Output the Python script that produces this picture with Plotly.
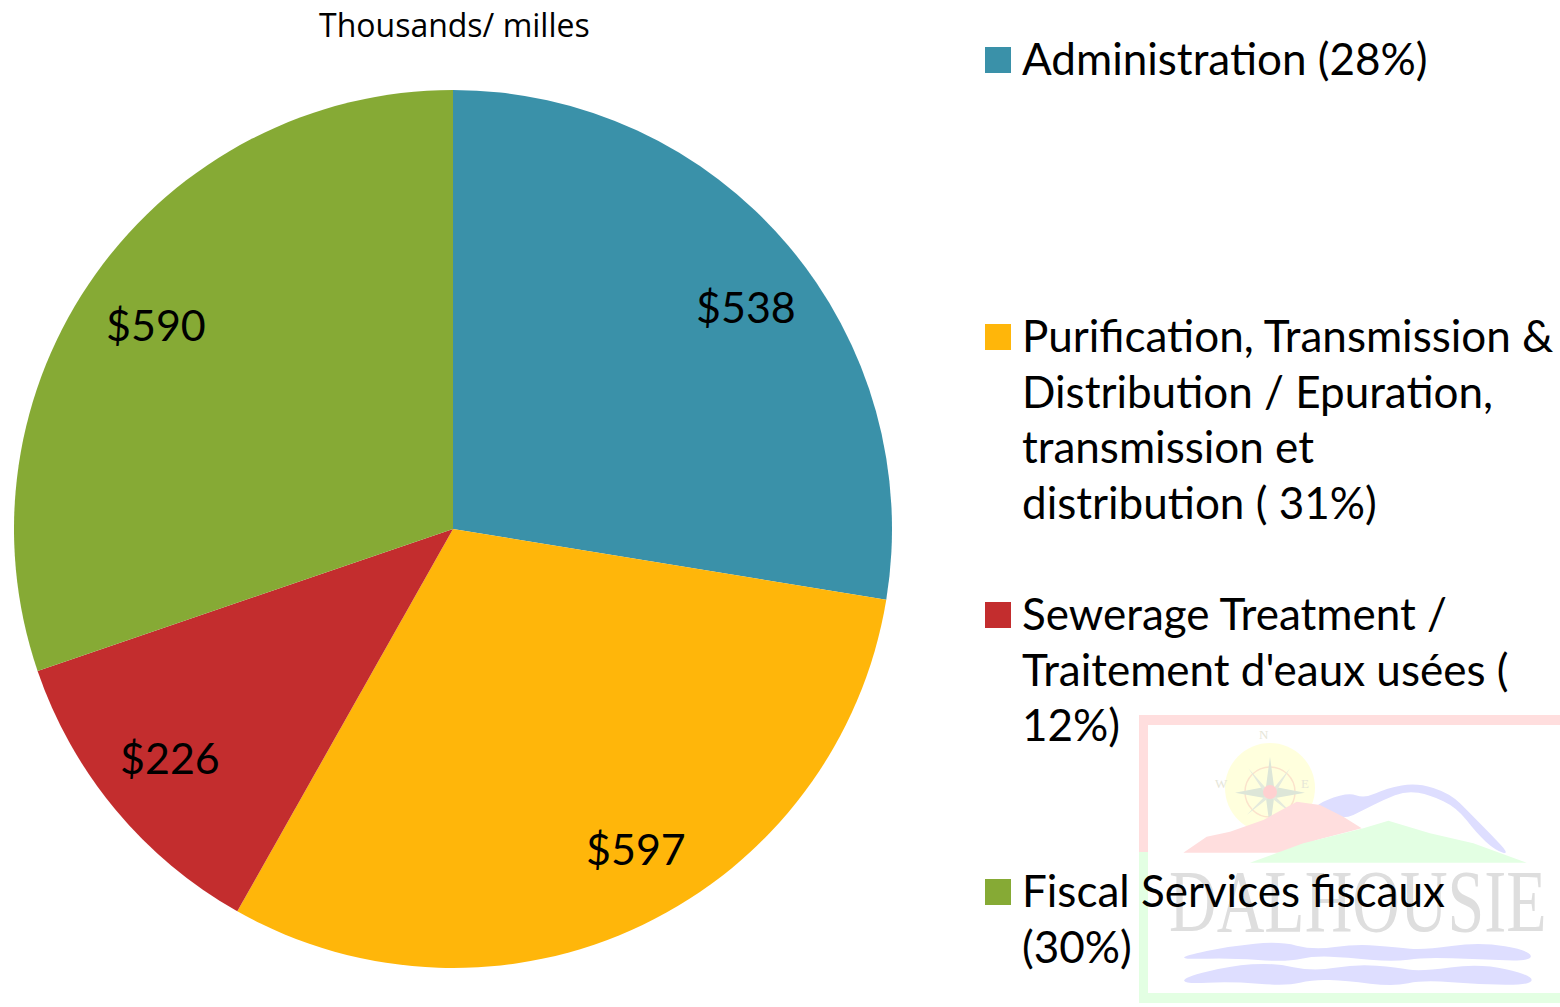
import plotly.graph_objects as go

W, H = 1560, 1007
categories = [["Administration (28%)"],
              ["Purification, Transmission &", "Distribution / Epuration,", "transmission et", "distribution ( 31%)"],
              ["Sewerage Treatment /", "Traitement d'eaux usées (", "12%)"],
              ["Fiscal Services fiscaux", "(30%)"]]
values = [538, 597, 226, 590]
colors = ["#3A91A9", "#FFB60A", "#C32D2E", "#86AA35"]
label_pos = [(746, 307), (636, 848), (170, 757), (156, 325)]
legend_tops = [30, 307, 585, 862]
title_text = "Thousands/ milles"

MAIN = "Lato, 'Noto Sans', sans-serif"
LINE_STEP = 55.7
px = lambda x: x / W
py = lambda y: 1 - y / H


def crop_xy(a, b):
    # logo outline points, measured in the 3x crop at (1130, 700)
    return px(1130 + a / 3), py(700 + b / 3)


def zpath(pts):
    c = [crop_xy(a, b) for a, b in pts]
    return "M" + " L".join(f"{a:.5f},{b:.5f}" for a, b in c) + " Z"


def smooth(pts):
    c = [crop_xy(a, b) for a, b in pts]
    n = len(c)
    mid = lambda p, q: ((p[0] + q[0]) / 2, (p[1] + q[1]) / 2)
    start = mid(c[-1], c[0])
    d = f"M{start[0]:.5f},{start[1]:.5f}"
    for i in range(n):
        m = mid(c[i], c[(i + 1) % n])
        d += f" Q{c[i][0]:.5f},{c[i][1]:.5f} {m[0]:.5f},{m[1]:.5f}"
    return d + " Z"


def logo_shape(path, fill):
    return dict(type="path", xref="paper", yref="paper", path=path, fillcolor=fill,
                line=dict(width=0), layer="below")


def rect(x0, y0, x1, y1, fill, layer="below"):
    return dict(type="rect", xref="paper", yref="paper", x0=px(x0), x1=px(x1), y0=py(y1), y1=py(y0),
                fillcolor=fill, line=dict(width=0), layer=layer)


def circle(cx, cy, r, fill, line=None, lw=0):
    return dict(type="circle", xref="paper", yref="paper", x0=px(cx - r), x1=px(cx + r),
                y0=py(cy + r), y1=py(cy - r), fillcolor=fill,
                line=dict(width=lw, color=line or fill), layer="below")


shapes = [
    rect(1139, 715, 1560, 725, "#FFDEDE"),
    rect(1139, 715, 1148, 852, "#FFDEDE"),
    rect(1139, 852, 1148, 1003, "#E3FFE3"),
    rect(1139, 993, 1560, 1003, "#E3FFE3"),
    circle(1270, 788, 45, "#FFFFDD"),
    circle(1270, 792, 25, "rgba(0,0,0,0)", "#FBE3CC", 1.5),
    logo_shape(zpath([(420, 170), (432, 260), (525, 278), (432, 295), (420, 385), (408, 295), (315, 278), (408, 260)]), "#DDE6D8"),
    logo_shape(zpath([(420, 278), (480, 205), (432, 285), (490, 345), (420, 290), (350, 345), (408, 285), (355, 205)]), "#E4EADD"),
    logo_shape(smooth([(530, 325), (650, 276), (705, 295), (770, 265), (860, 248), (960, 280), (1020, 340),
                       (1085, 405), (1140, 465), (1095, 450), (1040, 400), (980, 322), (900, 285), (830, 272),
                       (760, 300), (700, 330), (640, 360)]), "#DEDEFF"),
    logo_shape(zpath([(160, 458), (230, 410), (300, 395), (400, 360), (500, 305), (570, 315), (640, 350),
                      (695, 385), (560, 420), (470, 458)]), "#FFDEDE"),
    logo_shape(zpath([(360, 488), (520, 430), (700, 385), (775, 362), (900, 400), (1030, 430), (1190, 488)]), "#E3FFE3"),
    circle(1270, 792, 7, "#FFD0D0"),
    logo_shape(smooth([(160, 768), (300, 738), (450, 724), (550, 750), (680, 732), (800, 742), (880, 750),
                       (1050, 726), (1200, 752), (1205, 784), (1050, 778), (880, 772), (790, 786), (650, 772),
                       (550, 768), (470, 786), (300, 774), (165, 778)]), "#DEDEFF"),
    logo_shape(smooth([(160, 832), (300, 798), (430, 788), (550, 815), (680, 792), (800, 802), (870, 815),
                       (1050, 790), (1205, 825), (1205, 855), (1050, 854), (880, 840), (790, 860), (650, 842),
                       (550, 838), (470, 858), (300, 844), (165, 852)]), "#DEDEFF"),
]

annotations = [
    dict(x=px(1358), y=py(900), xref="paper", yref="paper", text="DALHOUSIE", showarrow=False,
         xanchor="center", yanchor="middle",
         font=dict(family="'Liberation Serif', serif", size=66, color="#DEDEDE")),
    dict(x=px(454), y=py(25), xref="paper", yref="paper", text=title_text, showarrow=False,
         xanchor="center", yanchor="middle",
         font=dict(family="'Open Sans', 'Noto Sans', sans-serif", size=32, color="#000000")),
]

for letter, lx, ly in [("N", 1271, 744), ("W", 1230, 793), ("E", 1311, 793)]:
    annotations.append(dict(x=px(lx), y=py(ly), xref="paper", yref="paper", text=letter, showarrow=False,
                            font=dict(family="'Liberation Serif', serif", size=13, color="#E6E6D8")))

for (lx, ly), v in zip(label_pos, values):
    annotations.append(dict(x=px(lx), y=py(ly), xref="paper", yref="paper", text=f"${v}", showarrow=False,
                            xanchor="center", yanchor="middle",
                            font=dict(family=MAIN, size=43, color="#000000")))

for lines, col, top in zip(categories, colors, legend_tops):
    shapes.append(rect(985, top + 17, 1011, top + 43, col, layer="above"))
    for i, line in enumerate(lines):
        annotations.append(dict(x=px(1019.5), y=py(top + LINE_STEP * i), xref="paper", yref="paper", text=line,
                                showarrow=False, xanchor="left", yanchor="top", align="left",
                                font=dict(family=MAIN, size=44, color="#000000")))

fig = go.Figure(go.Pie(
    labels=[" ".join(c) for c in categories], values=values, sort=False, direction="clockwise",
    rotation=0, textinfo="none", marker=dict(colors=colors, line=dict(width=0)), showlegend=False,
    domain=dict(x=[px(14), px(892)], y=[py(968), py(90)]),
))
fig.update_layout(width=W, height=H, margin=dict(l=0, r=0, t=0, b=0), paper_bgcolor="rgba(0,0,0,0)",
                  plot_bgcolor="rgba(0,0,0,0)", shapes=shapes, annotations=annotations)
post = """
document.body.style.margin='0';
document.querySelectorAll('.annotation-text').forEach(function(t){
  if(t.textContent==='DALHOUSIE'){
    t.style.transformBox='fill-box';t.style.transformOrigin='center';t.style.transform='scaleY(1.35)';
  }
});
"""
fig.write_html("out.html", post_script=post, config={"displayModeBar": False})
